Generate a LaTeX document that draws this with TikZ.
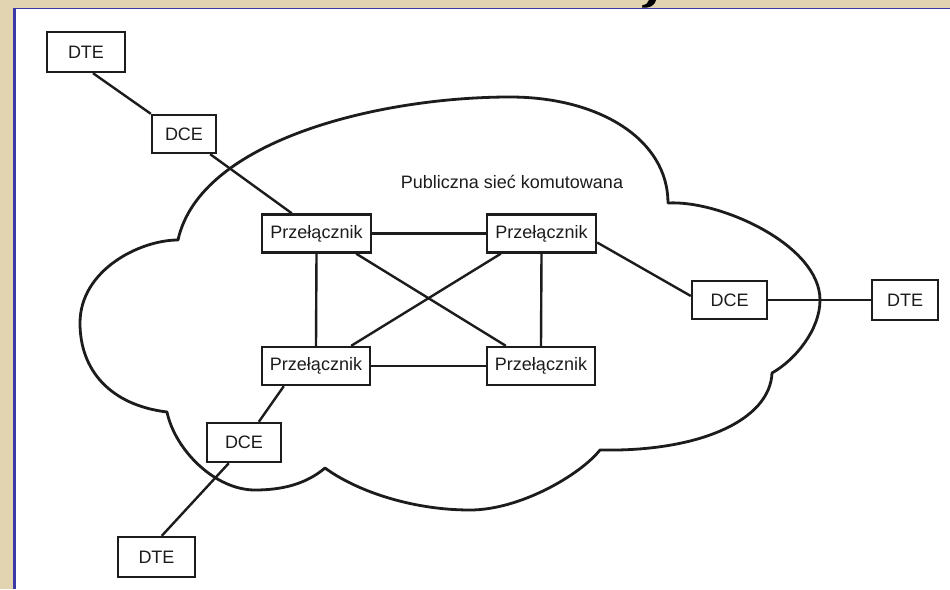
\documentclass[tikz,border=0pt]{standalone}
\usepackage{fontspec}
\setmainfont{Liberation Sans}
\usetikzlibrary{calc}
\definecolor{beige}{HTML}{E2D4B0}
\definecolor{frameblue}{HTML}{3A3AA6}
\definecolor{ink}{HTML}{1C1C1C}
\begin{document}
\begin{tikzpicture}[x=1pt,y=-1pt,
  every node/.style={font=\fontsize{18}{21}\selectfont, text=ink},
  box/.style={draw=ink, line width=2.4pt, fill=white, inner sep=0pt, minimum height=38pt},
  link/.style={draw=ink, line width=2.4pt},
  cloudline/.style={draw=ink, line width=2.8pt, line join=round}]
\useasboundingbox (0,0) rectangle (950,589);
% background and frame
\fill[beige] (0,0) rectangle (950,589);
\fill[white] (14,8) rectangle (950,589);
\draw[frameblue, line width=1.2pt] (14,8.5) -- (950,8.5);
\draw[frameblue, line width=3pt] (14.5,8) -- (14.5,589);
% fragment of title glyph
\fill[black] (649,0) -- (656,0) .. controls (655,4) and (652,7) .. (647,7.5) -- (642,7.5) -- (642.5,5) .. controls (646,5) and (648,3) .. (649,0) -- cycle;
% cloud
\path[cloudline]
  (178,240) .. controls (200,140) and (380,97) .. (510,97)
  .. controls (600,97) and (668,140) .. (668,203)
  .. controls (720,200) and (820,245) .. (820,300)
  .. controls (820,330) and (795,360) .. (772,373)
  .. controls (770,420) and (700,452) .. (600,450)
  .. controls (580,475) and (520,510) .. (470,510)
  .. controls (410,510) and (355,490) .. (325,468)
  .. controls (305,485) and (280,490) .. (255,490)
  .. controls (215,490) and (175,450) .. (167,412)
  .. controls (110,405) and (80,370) .. (80,323)
  .. controls (80,270) and (140,240) .. (178,240) -- cycle;
\node at (512,182) (cloudlabel) {Publiczna sieć komutowana};
% nodes
\node[box, minimum width=78pt, minimum height=40pt] (dte1) at (86,52) {DTE};
\node[box, minimum width=64pt] (dce1) at (184,134) {DCE};
\node[box, minimum width=109pt] (tl) at (316.5,233.5) {Przełącznik};
\node[box, minimum width=109pt] (tr) at (541.5,233.5) {Przełącznik};
\node[box, minimum width=108pt] (bl) at (316,366) {Przełącznik};
\node[box, minimum width=108pt] (br) at (541,366) {Przełącznik};
\node[box, minimum width=75pt] (dce2) at (729.5,300) {DCE};
\node[box, minimum width=66pt, minimum height=40pt] (dte2) at (905,300) {DTE};
\node[box, minimum width=74pt, minimum height=39pt] (dce3) at (244,442.5) {DCE};
\node[box, minimum width=77pt, minimum height=40pt] (dte3) at (156.5,557) {DTE};
% connectors
\path[link] ($(dte1.south)+(7,0)$) -- (dce1.north west);
\path[link] ($(dce1.south east)+(-7,0)$) -- ($(tl.north west)+(31,0)$);
\path[link] (tl.east) -- (tr.west);
\path[link] (tl.south) -- (bl.north);
\path[link] (tr.south) -- (br.north);
\path[link] ($(tl.south east)+(-16,0)$) -- ($(br.north west)+(20,0)$);
\path[link] ($(tr.south west)+(15,0)$) -- ($(bl.north east)+(-20,0)$);
\path[link] (bl.east) -- (br.west);
\path[link] ($(tr.east)+(0,9)$) -- ($(dce2.west)+(0,-4)$);
\path[link] (dce2.east) -- (dte2.west);
\path[link] ($(bl.south west)+(23,0)$) -- ($(dce3.north west)+(53,0)$);
\path[link] ($(dce3.south west)+(23,0)$) -- ($(dte3.north west)+(45,0)$);
\end{tikzpicture}
\end{document}
